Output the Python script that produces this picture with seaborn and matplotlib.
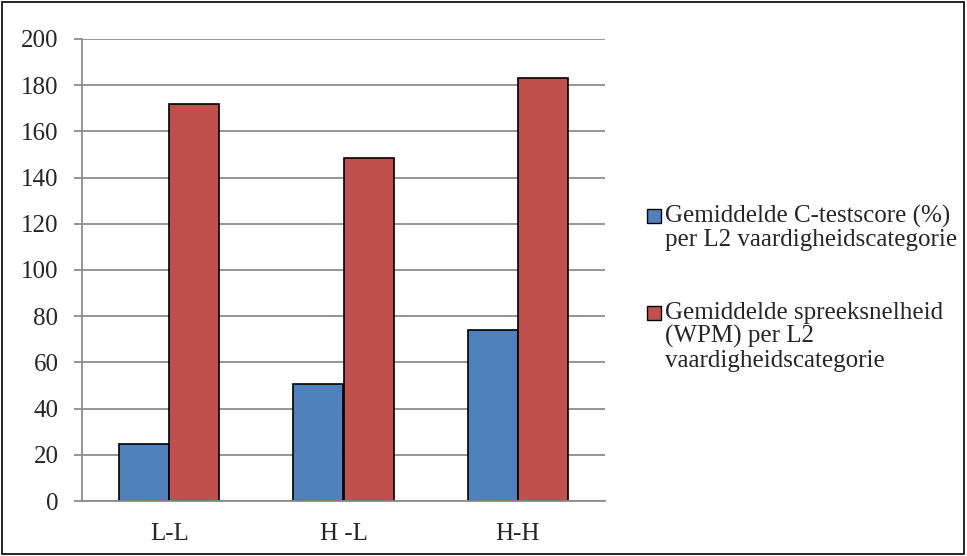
import matplotlib
matplotlib.use("Agg")
import matplotlib.pyplot as plt
import seaborn as sns
import pandas as pd
from matplotlib.patches import Rectangle

categories = ["L-L", "H -L", "H-H"]
series_names = [
    "Gemiddelde C-testscore (%)\nper L2 vaardigheidscategorie",
    "Gemiddelde spreeksnelheid\n(WPM) per L2\nvaardigheidscategorie",
]
ctest = [24.8, 50.6, 74.0]
wpm = [171.8, 148.4, 183.3]
yticks = [0, 20, 40, 60, 80, 100, 120, 140, 160, 180, 200]
colors = ["#4F81BD", "#C0504D"]

df = pd.DataFrame({
    "cat": categories * 2,
    "series": [series_names[0]] * 3 + [series_names[1]] * 3,
    "value": ctest + wpm,
})

sns.set_style("white")
plt.rcParams["font.family"] = ["Liberation Serif", "DejaVu Serif"]

W, H = 967, 556
fig = plt.figure(figsize=(W / 100, H / 100), dpi=100)
ax = fig.add_axes([82 / W, 1 - 501 / H, (605 - 82) / W, (501 - 39) / H])

sns.barplot(data=df, x="cat", y="value", hue="series", order=categories,
            hue_order=series_names, palette=colors, width=0.575,
            edgecolor="black", linewidth=1.2, saturation=1, ax=ax,
            legend=False, errorbar=None)

ax.set_ylim(0, 200)
ax.set_xlim(-0.5, 2.5)
ax.set_yticks(yticks)
ax.set_yticklabels([str(t) for t in yticks], fontsize=18)
ax.yaxis.grid(True, color="#8c8c8c", linewidth=1.3)
ax.set_axisbelow(True)
ax.set_xlabel("")
ax.set_ylabel("")
ax.tick_params(axis="x", which="major", length=0, labelsize=18, pad=16)
ax.set_xticks([-0.5, 0.5, 1.5, 2.5], minor=True)
ax.tick_params(axis="x", which="minor", length=6, color="#8c8c8c", width=1.3, direction="out")
ax.tick_params(axis="y", length=6, color="#8c8c8c", width=1.3, direction="out", pad=11, left=True)
for s in ["top", "right"]:
    ax.spines[s].set_visible(False)
for s in ["left", "bottom"]:
    ax.spines[s].set_color("#8c8c8c")
    ax.spines[s].set_linewidth(1.3)

# legend drawn manually: square aligned with first text line
legend_first_line_y = [216, 313]
for name, c, ly in zip(series_names, colors, legend_first_line_y):
    fig.patches.append(Rectangle((647 / W, 1 - (ly + 7) / H), 14 / W, 14 / H,
                                 transform=fig.transFigure, facecolor=c,
                                 edgecolor="black", linewidth=1.0))
    fig.text(665 / W, 1 - (ly - 11) / H, name, fontsize=18, va="top", ha="left",
             linespacing=1.07)

fig.patches.append(Rectangle((0.002, 0.003), 0.995, 0.994, transform=fig.transFigure,
                             fill=False, edgecolor="black", linewidth=1.2))

fig.savefig("out.png", dpi=100)
